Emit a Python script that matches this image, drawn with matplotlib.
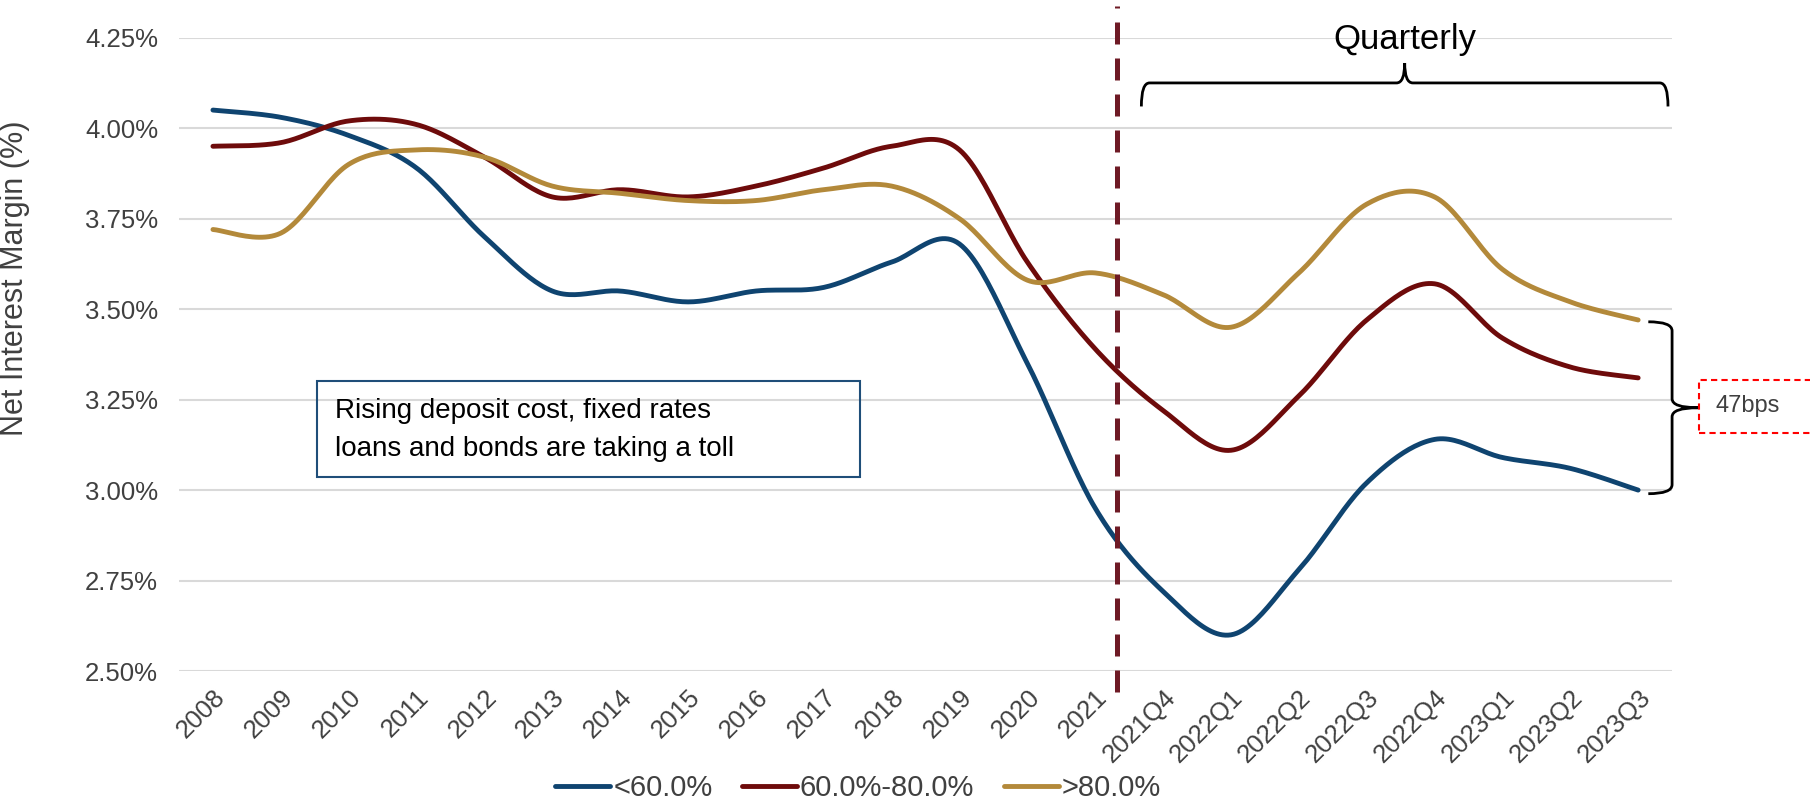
import numpy as np
import matplotlib
matplotlib.use("Agg")
import matplotlib.pyplot as plt
from matplotlib.path import Path
from matplotlib.patches import PathPatch, Rectangle

plt.rcParams['font.family'] = ['Liberation Sans', 'DejaVu Sans']

periods = ["2008", "2009", "2010", "2011", "2012", "2013", "2014", "2015",
           "2016", "2017", "2018", "2019", "2020", "2021", "2021Q4", "2022Q1",
           "2022Q2", "2022Q3", "2022Q4", "2023Q1", "2023Q2", "2023Q3"]

below_60 = [4.05, 4.03, 3.98, 3.89, 3.70, 3.55, 3.55, 3.52, 3.55, 3.56, 3.63,
            3.68, 3.35, 2.95, 2.72, 2.60, 2.78, 3.02, 3.14, 3.09, 3.06, 3.00]
mid_60_80 = [3.95, 3.96, 4.02, 4.01, 3.92, 3.81, 3.83, 3.81, 3.84, 3.89, 3.95,
             3.94, 3.63, 3.39, 3.22, 3.11, 3.26, 3.47, 3.57, 3.42, 3.34, 3.31]
above_80 = [3.72, 3.71, 3.90, 3.94, 3.92, 3.84, 3.82, 3.80, 3.80, 3.83, 3.84,
            3.75, 3.58, 3.60, 3.54, 3.45, 3.60, 3.79, 3.81, 3.61, 3.52, 3.47]

series_names = ["<60.0%", "60.0%-80.0%", ">80.0%"]
colors = ["#0F4470", "#6E0B0B", "#B3893A"]

note_text = "Rising deposit cost, fixed rates\nloans and bonds are taking a toll"
gap_text = "47bps"


def smooth(xs, ys, n=24):
    # catmull-rom through the points, like excel's smoothed line
    xs = np.asarray(xs, float)
    ys = np.asarray(ys, float)
    px = np.concatenate([[xs[0]], xs, [xs[-1]]])
    py = np.concatenate([[ys[0]], ys, [ys[-1]]])
    t = np.linspace(0, 1, n, endpoint=False)
    outx, outy = [], []
    for i in range(1, len(px) - 2):
        for p, out in ((px, outx), (py, outy)):
            p0, p1, p2, p3 = p[i - 1], p[i], p[i + 1], p[i + 2]
            out.extend(0.5 * (2 * p1 + (-p0 + p2) * t
                              + (2 * p0 - 5 * p1 + 4 * p2 - p3) * t ** 2
                              + (-p0 + 3 * p1 - 3 * p2 + p3) * t ** 3))
    outx.append(xs[-1])
    outy.append(ys[-1])
    return np.array(outx), np.array(outy)


def hbrace(ax, x0, x1, y_end, y_mid, y_tip, r=0.12):
    xc = (x0 + x1) / 2
    verts = [(x0, y_end), (x0, y_mid), (x0 + r, y_mid),
             (xc - r, y_mid), (xc, y_mid), (xc, y_tip),
             (xc, y_mid), (xc + r, y_mid),
             (x1 - r, y_mid), (x1, y_mid), (x1, y_end)]
    codes = [Path.MOVETO, Path.CURVE3, Path.CURVE3,
             Path.LINETO, Path.CURVE3, Path.CURVE3,
             Path.CURVE3, Path.CURVE3,
             Path.LINETO, Path.CURVE3, Path.CURVE3]
    ax.add_patch(PathPatch(Path(verts, codes), fill=False, lw=2, ec="black",
                           clip_on=False))


def vbrace(ax, y0, y1, x_end, x_mid, x_tip, r=0.025):
    yc = (y0 + y1) / 2
    verts = [(x_end, y0), (x_mid, y0), (x_mid, y0 - r),
             (x_mid, yc + r), (x_mid, yc), (x_tip, yc),
             (x_mid, yc), (x_mid, yc - r),
             (x_mid, y1 + r), (x_mid, y1), (x_end, y1)]
    codes = [Path.MOVETO, Path.CURVE3, Path.CURVE3,
             Path.LINETO, Path.CURVE3, Path.CURVE3,
             Path.CURVE3, Path.CURVE3,
             Path.LINETO, Path.CURVE3, Path.CURVE3]
    ax.add_patch(PathPatch(Path(verts, codes), fill=False, lw=2, ec="black",
                           clip_on=False))


fig = plt.figure(figsize=(18.1, 8.02), dpi=100)
ax = fig.add_axes([0.0989, 0.1633, 0.8249, 0.7897])

x = np.arange(len(periods))
for vals, name, c in zip([below_60, mid_60_80, above_80], series_names, colors):
    sx, sy = smooth(x, vals)
    ax.plot(sx, sy, color=c, lw=3.5, solid_capstyle="round", label=name, zorder=3)

ax.set_xlim(-0.5, len(periods) - 0.5)
ax.set_ylim(2.5, 4.25)
yt = np.arange(2.5, 4.26, 0.25)
ax.set_yticks(yt)
ax.set_yticklabels([f"{v:.2f}%" for v in yt])
ax.set_xticks(x)
ax.set_xticklabels(periods, rotation=45, ha="right", va="top",
                   rotation_mode="anchor")
ax.tick_params(axis="both", length=0, labelsize=18.5, labelcolor="#404040")
ax.tick_params(axis="y", pad=15)
ax.tick_params(axis="x", pad=10)
ax.grid(axis="y", color="#D9D9D9", lw=1.5)
ax.set_axisbelow(True)
for s in ax.spines.values():
    s.set_visible(False)

ax.set_ylabel("Net Interest Margin (%)", fontsize=22, color="#404040")
ax.yaxis.set_label_coords(-0.1, 0.62)

# split between annual and quarterly data
ax.plot([13.32, 13.32], [2.443, 4.337], color="#6E1A25", lw=3.6,
        dashes=(4.4, 2.8), clip_on=False, zorder=4)

hbrace(ax, 13.68, 21.44, 4.06, 4.125, 4.18)
ax.text(17.56, 4.2, "Quarterly", fontsize=25, ha="center", va="bottom")

vbrace(ax, 3.465, 2.99, 21.15, 21.5, 21.88)
ax.add_patch(Rectangle((21.9, 3.158), 1.7, 0.146, fill=False, ec="#FF0000",
                       lw=1.5, ls=(0, (3, 2)), clip_on=False))
ax.text(22.62, 3.231, gap_text, fontsize=17, color="#404040",
        ha="center", va="center")

ax.add_patch(Rectangle((1.53, 3.037), 8.0, 0.265, fill=False, ec="#1F4E79",
                       lw=1.5, zorder=5))
ax.text(1.8, 3.165, note_text, fontsize=20, ha="left", va="center",
        linespacing=1.6, zorder=5)

fig.legend(loc="center", bbox_to_anchor=(858 / 1810, 1 - 788 / 802), ncol=3,
           frameon=False, fontsize=21, handlelength=1.9, handletextpad=0.1,
           columnspacing=1.0, labelcolor="#404040")

fig.savefig("out.png", dpi=100)
